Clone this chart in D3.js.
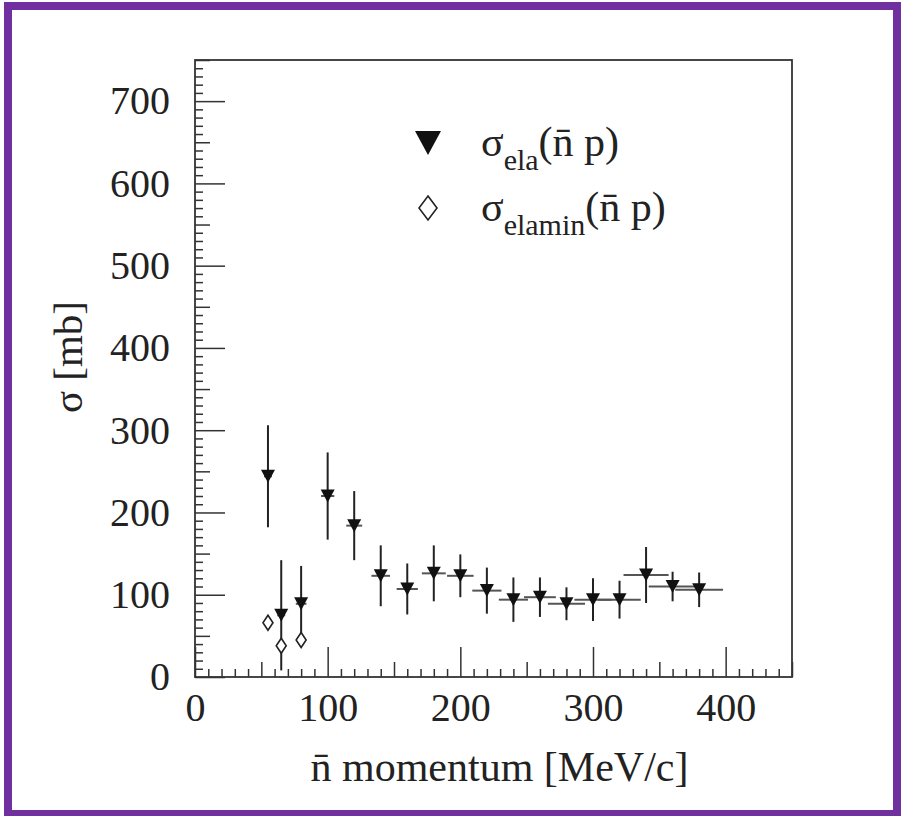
<!DOCTYPE html>
<html>
<head>
<meta charset="utf-8">
<script src="https://cdn.jsdelivr.net/npm/d3@7"></script>
<style>
  html, body { margin: 0; padding: 0; background: #fff; }
  svg { display: block; }
</style>
</head>
<body>
<svg id="chart"></svg>
<script>
// antineutron-proton elastic cross section vs momentum
const momentum = [55, 65, 80, 100, 120, 140, 160, 180, 200, 220, 240, 260, 280, 300, 320, 340, 360, 380];
const sigmaEla = [244, 75, 89, 220, 184, 123, 107, 126, 123, 105, 94, 97, 89, 94, 94, 124, 110, 106];
const sigmaErr = [62, 67, 46, 53, 42, 37, 31, 34, 26, 28, 27, 24, 20, 26, 23, 34, 18, 21];
const momentumErr = [3, 3, 4, 5, 6, 7, 8, 9, 10, 11, 11, 12, 14, 14, 16, 17, 18, 18];

const minMomentum = [55, 65, 80];
const sigmaElamin = [66, 38, 45];

const xTicks = [0, 100, 200, 300, 400];
const yTicks = [0, 100, 200, 300, 400, 500, 600, 700];

const W = 901, H = 816;
const mLeft = 195, mRight = 792, mTop = 60, mBottom = 677;
const FONT = '"Liberation Serif", "Times New Roman", serif';

const svg = d3.select("#chart").attr("width", W).attr("height", H);

// purple page border
svg.append("rect")
    .attr("x", 8).attr("y", 6)
    .attr("width", 889).attr("height", 808)
    .attr("fill", "#fff")
    .attr("stroke", "#7030a0")
    .attr("stroke-width", 8);

const x = d3.scaleLinear().domain([0, 450]).range([mLeft, mRight]);
const y = d3.scaleLinear().domain([0, 750]).range([mBottom, mTop]);

// ticks: major / half / minor
function addXAxis(values, size, labels) {
    const ax = d3.axisBottom(x).tickValues(values).tickSizeInner(-size).tickSizeOuter(0).tickPadding(16);
    if (!labels) ax.tickFormat("");
    const g = svg.append("g").attr("transform", `translate(0,${mBottom})`).call(ax);
    g.select(".domain").remove();
    g.selectAll("line").attr("stroke", "#333").attr("stroke-width", 1.5);
    g.selectAll("text").attr("font-size", 40).style("font-family", FONT).attr("fill", "#222");
}
function addYAxis(values, size, labels) {
    const ax = d3.axisLeft(y).tickValues(values).tickSizeInner(-size).tickSizeOuter(0).tickPadding(25);
    if (!labels) ax.tickFormat("");
    const g = svg.append("g").attr("transform", `translate(${mLeft},0)`).call(ax);
    g.select(".domain").remove();
    g.selectAll("line").attr("stroke", "#333").attr("stroke-width", 1.5);
    g.selectAll("text").attr("font-size", 40).style("font-family", FONT).attr("fill", "#222");
}

const xMinor = d3.range(0, 451, 10).filter(v => v % 50 !== 0);
const xHalf = d3.range(50, 451, 100);
const yMinor = d3.range(0, 751, 10).filter(v => v % 50 !== 0);
const yHalf = d3.range(50, 751, 100);

addXAxis(xMinor, 8, false);
addXAxis(xHalf, 15, false);
addXAxis(xTicks, 30, true);
addYAxis(yMinor, 8, false);
addYAxis(yHalf, 15, false);
addYAxis(yTicks, 30, true);

// frame
svg.append("rect")
    .attr("x", mLeft).attr("y", mTop)
    .attr("width", mRight - mLeft).attr("height", mBottom - mTop)
    .attr("fill", "none")
    .attr("stroke", "#333")
    .attr("stroke-width", 1.8);

const pts = momentum.map((m, i) => ({ m, s: sigmaEla[i], e: sigmaErr[i], me: momentumErr[i] }));

// horizontal (momentum) error bars
svg.append("g").selectAll("line")
    .data(pts).enter().append("line")
    .attr("x1", d => x(d.m - d.me)).attr("x2", d => x(d.m + d.me))
    .attr("y1", d => y(d.s)).attr("y2", d => y(d.s))
    .attr("stroke", "#555").attr("stroke-width", 2);

// vertical error bars
svg.append("g").selectAll("line")
    .data(pts).enter().append("line")
    .attr("x1", d => x(d.m)).attr("x2", d => x(d.m))
    .attr("y1", d => y(d.s - d.e)).attr("y2", d => y(d.s + d.e))
    .attr("stroke", "#222").attr("stroke-width", 2);

function triDown(w, h) {
    return `M${-w / 2},${-h / 2}L${w / 2},${-h / 2}L0,${h / 2}Z`;
}
function diamond(w, h) {
    return `M0,${-h / 2}L${w / 2},0L0,${h / 2}L${-w / 2},0Z`;
}

svg.append("g").selectAll("path")
    .data(pts).enter().append("path")
    .attr("d", triDown(14, 13))
    .attr("transform", d => `translate(${x(d.m)},${y(d.s)})`)
    .attr("fill", "#111");

svg.append("g").selectAll("path")
    .data(minMomentum.map((m, i) => ({ m, s: sigmaElamin[i] }))).enter().append("path")
    .attr("d", diamond(10, 15))
    .attr("transform", d => `translate(${x(d.m)},${y(d.s)})`)
    .attr("fill", "#fff")
    .attr("stroke", "#222")
    .attr("stroke-width", 1.6);

// legend
svg.append("path").attr("d", triDown(26, 24)).attr("transform", "translate(428,143)").attr("fill", "#111");
svg.append("path").attr("d", diamond(18, 24)).attr("transform", "translate(428,208)")
    .attr("fill", "#fff").attr("stroke", "#222").attr("stroke-width", 1.6);

function legendText(yy, sub) {
    const t = svg.append("text").attr("x", 481).attr("y", yy)
        .attr("font-size", 42).attr("fill", "#222").style("font-family", FONT);
    t.append("tspan").text("σ");
    t.append("tspan").attr("font-size", 30).attr("dy", 14).text(sub);
    t.append("tspan").attr("dy", -14).text("(n\u0304 p)");
}
legendText(156, "ela");
legendText(221, "elamin");

// axis titles
svg.append("text")
    .attr("x", (mLeft + mRight) / 2 + 6).attr("y", 781)
    .attr("text-anchor", "middle")
    .attr("font-size", 42).attr("fill", "#222").style("font-family", FONT)
    .text("n\u0304 momentum [MeV/c]");

svg.append("text")
    .attr("transform", "translate(82,357) rotate(-90)")
    .attr("text-anchor", "middle")
    .attr("font-size", 41).attr("fill", "#222").style("font-family", FONT)
    .text("σ [mb]");
</script>
</body>
</html>
